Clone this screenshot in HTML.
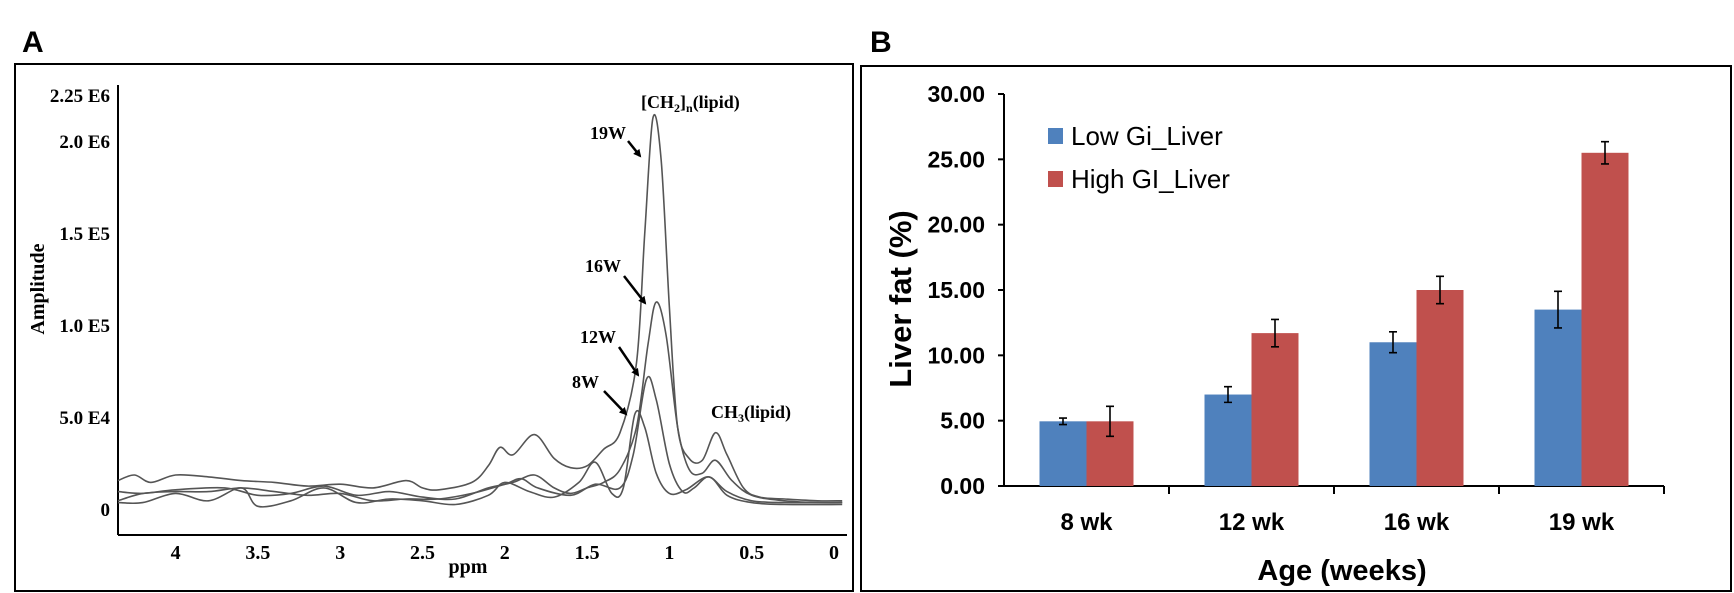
<!DOCTYPE html>
<html><head><meta charset="utf-8"><style>
html,body{margin:0;padding:0;background:#fff;}
svg{display:block;}
</style></head><body>
<svg id="fig" width="1734" height="593" viewBox="0 0 1734 593" xmlns="http://www.w3.org/2000/svg">
<text x="22" y="52" font-family="Liberation Sans, sans-serif" font-weight="bold" font-size="30">A</text>
<text x="870" y="52" font-family="Liberation Sans, sans-serif" font-weight="bold" font-size="30">B</text>
<rect x="15" y="64" width="838" height="527" fill="none" stroke="#000" stroke-width="2"/>
<rect x="861" y="66" width="870" height="525" fill="none" stroke="#000" stroke-width="2"/>
<g id="pa"></g>
<g id="pb"></g>
</svg>
<script>
// ---------- Panel A data ----------
const ppmTicks = [4, 3.5, 3, 2.5, 2, 1.5, 1, 0.5, 0];
const ppmTickLabels = ["4", "3.5", "3", "2.5", "2", "1.5", "1", "0.5", "0"];
const ampTicks = [0, 50, 100, 150, 200, 225];
const ampTickLabels = ["0", "5.0 E4", "1.0 E5", "1.5 E5", "2.0 E6", "2.25 E6"];
const spec19 = [[4.35,16],[4.25,19],[4.15,15],[4.0,19],[3.8,18],[3.6,16],[3.4,15],[3.2,13],[3.0,14],[2.8,12],[2.6,16],[2.5,12],[2.4,11],[2.2,15],[2.1,24],[2.03,34],[1.95,30],[1.82,41],[1.7,28],[1.6,23],[1.5,24],[1.4,33],[1.3,42],[1.2,80],[1.15,150],[1.1,213],[1.05,190],[1.0,110],[0.95,45],[0.88,28],[0.8,27],[0.72,42],[0.65,30],[0.55,12],[0.45,7],[0.3,6],[0.1,5],[-0.05,5]];
const spec16 = [[4.35,10],[4.2,9],[4.0,11],[3.7,12],[3.5,8],[3.3,9],[3.1,13],[2.9,8],[2.7,10],[2.5,7],[2.3,6],[2.1,12],[1.95,15],[1.82,19],[1.7,12],[1.6,9],[1.5,12],[1.4,15],[1.3,22],[1.2,45],[1.13,90],[1.08,113],[1.02,95],[0.95,45],[0.88,22],[0.8,20],[0.72,27],[0.62,16],[0.5,8],[0.3,5],[0.1,4],[-0.05,4]];
const spec12 = [[4.35,5],[4.2,9],[4.0,10],[3.8,10],[3.6,12],[3.4,10],[3.2,8],[3.0,9],[2.8,5],[2.6,6],[2.4,6],[2.2,9],[2.0,14],[1.9,17],[1.8,12],[1.6,8],[1.45,14],[1.3,12],[1.22,30],[1.14,71],[1.08,60],[1.0,25],[0.92,10],[0.85,12],[0.76,18],[0.65,10],[0.5,5],[0.3,4],[-0.05,4]];
const spec8 = [[4.35,4],[4.2,4],[4.0,9],[3.8,5],[3.6,12],[3.5,2],[3.3,5],[3.1,12],[2.9,4],[2.7,6],[2.5,5],[2.3,3],[2.1,8],[2.0,15],[1.85,10],[1.7,7],[1.55,15],[1.45,26],[1.35,9],[1.28,12],[1.21,52],[1.15,45],[1.08,20],[1.0,9],[0.9,11],[0.76,18],[0.65,8],[0.5,4],[0.3,3],[-0.05,3]];

// ---------- Panel B data ----------
const categories = ["8 wk", "12 wk", "16 wk", "19 wk"];
const lowGi = [4.95, 7.0, 11.0, 13.5];
const lowGiErr = [0.25, 0.6, 0.8, 1.4];
const highGi = [4.95, 11.7, 15.0, 25.5];
const highGiErr = [1.15, 1.05, 1.05, 0.85];
const yTicksB = [0, 5, 10, 15, 20, 25, 30];
const yTickLabelsB = ["0.00", "5.00", "10.00", "15.00", "20.00", "25.00", "30.00"];

const NS = "http://www.w3.org/2000/svg";
function mk(tag, attrs, parent, txt) {
  const e = document.createElementNS(NS, tag);
  for (const k in attrs) e.setAttribute(k, attrs[k]);
  if (txt !== undefined) e.textContent = txt;
  parent.appendChild(e);
  return e;
}

// ---------- Panel A ----------
const pa = document.getElementById('pa');
const xA = p => 834 - 164.6 * p;
const yA = a => 510 - a * 92 / 50;
const serif = "Liberation Serif, serif";
let e;
e = mk('line', {x1:118, y1:85, x2:118, y2:535, stroke:'#000', 'stroke-width':2}, pa);


e = mk('line', {x1:118, y1:535, x2:847, y2:535, stroke:'#000', 'stroke-width':2}, pa);


ppmTicks.forEach((p, i) => {
  e = mk('text', {x:xA(p), y:559, 'text-anchor':'middle', 'font-family':serif, 'font-weight':'bold', 'font-size':20}, pa, ppmTickLabels[i]);
  
  
});
ampTicks.forEach((a, i) => {
  e = mk('text', {x:110, y:yA(a) + 6, 'text-anchor':'end', 'font-family':serif, 'font-weight':'bold', 'font-size':19}, pa, ampTickLabels[i]);
  
  
});
e = mk('text', {x:468, y:573, 'text-anchor':'middle', 'font-family':serif, 'font-weight':'bold', 'font-size':20}, pa, 'ppm');


e = mk('text', {x:0, y:0, 'text-anchor':'middle', 'font-family':serif, 'font-weight':'bold', 'font-size':20, transform:'translate(44,289) rotate(-90)'}, pa, 'Amplitude');


function smoothPath(pts) {
  let d = 'M' + pts[0][0].toFixed(1) + ',' + pts[0][1].toFixed(1);
  for (let i = 0; i < pts.length - 1; i++) {
    const p0 = pts[Math.max(0, i - 1)], p1 = pts[i], p2 = pts[i + 1], p3 = pts[Math.min(pts.length - 1, i + 2)];
    const c1x = p1[0] + (p2[0] - p0[0]) / 6, c1y = p1[1] + (p2[1] - p0[1]) / 6;
    const c2x = p2[0] - (p3[0] - p1[0]) / 6, c2y = p2[1] - (p3[1] - p1[1]) / 6;
    d += ` C${c1x.toFixed(1)},${c1y.toFixed(1)} ${c2x.toFixed(1)},${c2y.toFixed(1)} ${p2[0].toFixed(1)},${p2[1].toFixed(1)}`;
  }
  return d;
}
[[spec19,'spectrum-19w'],[spec16,'spectrum-16w'],[spec12,'spectrum-12w'],[spec8,'spectrum-8w']].forEach(([s, n]) => {
  const pts = s.map(pt => [xA(pt[0]), yA(pt[1])]);
  e = mk('path', {d:smoothPath(pts), fill:'none', stroke:'#555', 'stroke-width':1.6, 'stroke-linejoin':'round'}, pa);
  
  
});
// annotations
const ann = mk('g', {'font-family':serif, 'font-weight':'bold', 'font-size':18}, pa);


const t1 = mk('text', {x:641, y:108}, ann);


t1.innerHTML = '[CH<tspan font-size="12" dy="4">2</tspan><tspan dy="-4">]</tspan><tspan font-size="12" dy="4">n</tspan><tspan dy="-4">(lipid)</tspan>';
const t2 = mk('text', {x:711, y:418}, ann);


t2.innerHTML = 'CH<tspan font-size="12" dy="4">3</tspan><tspan dy="-4">(lipid)</tspan>';
mk('defs', {}, pa).innerHTML = '<marker id="ah" markerWidth="8" markerHeight="8" refX="6" refY="4" orient="auto" markerUnits="userSpaceOnUse"><path d="M0,0 L8,4 L0,8 z" fill="#000"/></marker>';
[['19W',590,139,628,141,640,156],['16W',585,272,624,276,645,303],['12W',580,343,619,347,638,375],['8W',572,388,604,391,626,414]].forEach(a => {
  e = mk('text', {x:a[1], y:a[2]}, ann, a[0]);
  
  
  e = mk('line', {x1:a[3], y1:a[4], x2:a[5], y2:a[6], stroke:'#000', 'stroke-width':2.5, 'marker-end':'url(#ah)'}, ann);
  
  
});

// ---------- Panel B ----------
const pb = document.getElementById('pb');
const sans = "Liberation Sans, sans-serif";
const x0 = 1004, gw = 165, bw = 47;
const yB = v => 486 - v * (392 / 30);
e = mk('line', {x1:x0, y1:94, x2:x0, y2:487, stroke:'#000', 'stroke-width':2}, pb);


e = mk('line', {x1:x0, y1:486, x2:x0 + gw * categories.length, y2:486, stroke:'#000', 'stroke-width':2}, pb);


yTicksB.forEach((v, i) => {
  e = mk('line', {x1:x0 - 6, y1:yB(v), x2:x0, y2:yB(v), stroke:'#000', 'stroke-width':2}, pb);
  
  
  e = mk('text', {x:985, y:yB(v) + 8, 'text-anchor':'end', 'font-family':sans, 'font-weight':'bold', 'font-size':23}, pb, yTickLabelsB[i]);
  
  
});
categories.forEach((c, i) => {
  const cx = x0 + gw * i + gw / 2;
  e = mk('line', {x1:x0 + gw * (i + 1), y1:486, x2:x0 + gw * (i + 1), y2:494, stroke:'#000', 'stroke-width':2}, pb);
  
  
  e = mk('text', {x:cx, y:530, 'text-anchor':'middle', 'font-family':sans, 'font-weight':'bold', 'font-size':24}, pb, c);
  
  
  [[lowGi, lowGiErr, '#4f81bd', cx - bw, 'bar-low-gi'], [highGi, highGiErr, '#c0504d', cx, 'bar-high-gi']].forEach(s => {
    const v = s[0][i], er = s[1][i], bx = s[3];
    e = mk('rect', {x:bx, y:yB(v), width:bw, height:486 - yB(v), fill:s[2]}, pb);
    
    
    const ex = bx + bw / 2;
    e = mk('path', {d:`M${ex},${yB(v + er)} V${yB(v - er)} M${ex - 4},${yB(v + er)} H${ex + 4} M${ex - 4},${yB(v - er)} H${ex + 4}`, stroke:'#000', 'stroke-width':1.6, fill:'none'}, pb);
    
    
  });
});
e = mk('text', {x:1342, y:580, 'text-anchor':'middle', 'font-family':sans, 'font-weight':'bold', 'font-size':29}, pb, 'Age (weeks)');


e = mk('text', {x:0, y:0, 'text-anchor':'middle', 'font-family':sans, 'font-weight':'bold', 'font-size':31, transform:'translate(911,299) rotate(-90)'}, pb, 'Liver fat (%)');


[['Low Gi_Liver', '#4f81bd', 136, 'legend-low-gi'], ['High GI_Liver', '#c0504d', 179, 'legend-high-gi']].forEach(l => {
  const g = mk('g', {}, pb);
  
  
  mk('rect', {x:1048, y:l[2] - 8, width:15, height:16, fill:l[1]}, g);
  mk('text', {x:1071, y:l[2] + 9, 'font-family':sans, 'font-size':26}, g, l[0]);
});
</script>
</body></html>
